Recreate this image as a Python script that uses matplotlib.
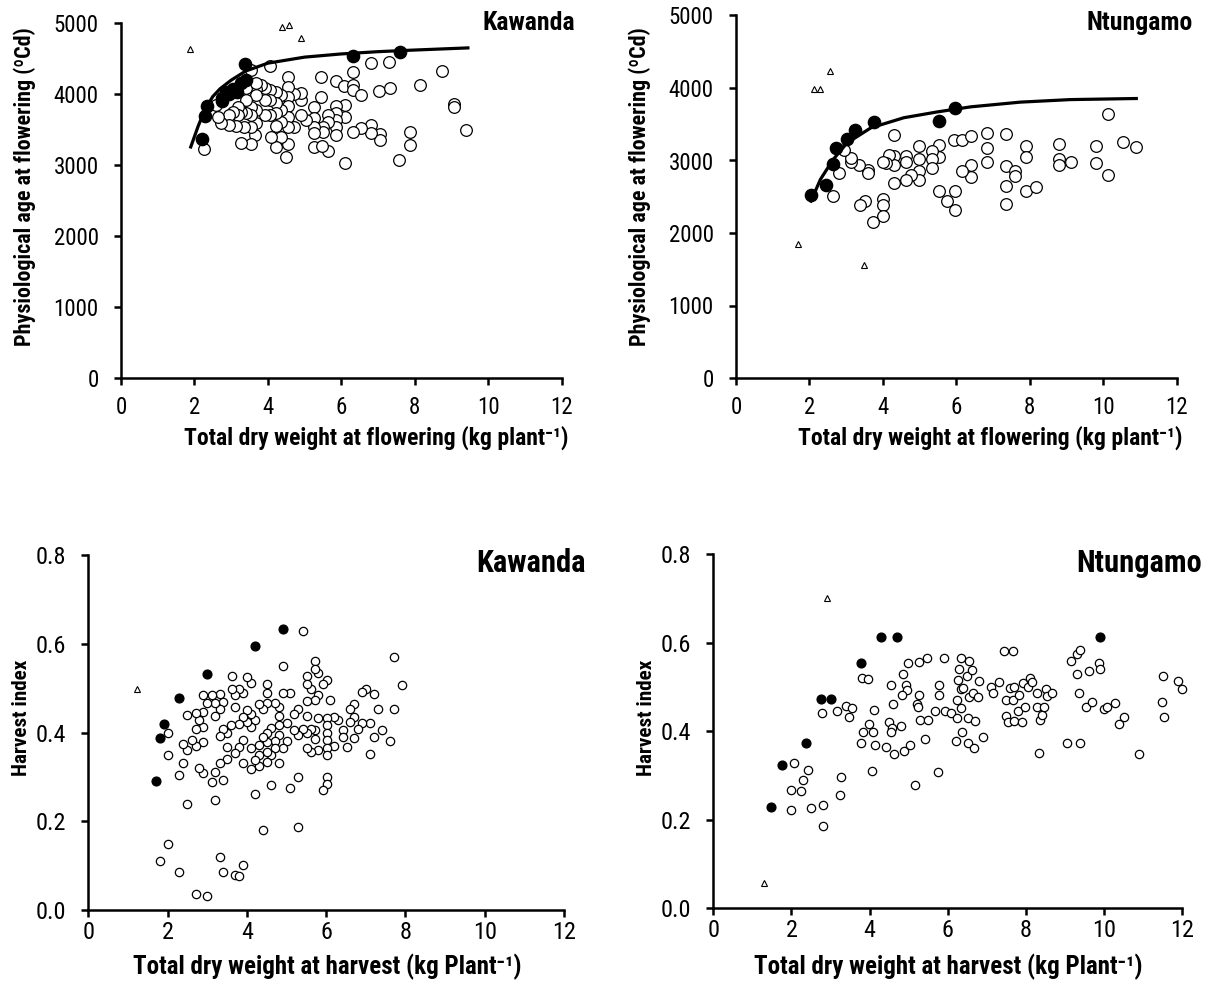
import matplotlib
matplotlib.use('Agg')
import matplotlib.pyplot as plt
from matplotlib import font_manager
from matplotlib.ticker import FormatStrFormatter

# look for a narrow / condensed sans face (the reference uses Arial Narrow)
FACE, STRETCH, k = 'Liberation Sans', 'normal', 0.84
cands = []
for f in font_manager.fontManager.ttflist:
    st = str(f.stretch)
    if 'Narrow' in f.name or 'Condensed' in f.name or st in ('condensed', 'semi-condensed', 'extra-condensed', '75', '87'):
        cands.append((f.name, st))
pref = ['Liberation Sans Narrow', 'Arial Narrow', 'Roboto Condensed', 'Open Sans Condensed',
        'Noto Sans', 'Roboto', 'Open Sans', 'DejaVu Sans']
for p in pref:
    hit = [c for c in cands if c[0] == p]
    if hit:
        FACE, STRETCH, k = hit[0][0], hit[0][1], 1.0
        break
plt.rcParams['font.family'] = [FACE, 'Liberation Sans', 'DejaVu Sans']
plt.rcParams['font.stretch'] = STRETCH

# ---- Kawanda, flowering ----
kf_open_x = [4.07, 4.56, 5.46, 6.32, 6.80, 7.30, 8.75, 8.14, 5.87, 6.07, 6.32, 6.32, 6.55, 7.03, 7.32,
             5.46, 9.07, 9.07, 9.41, 7.86, 7.86, 7.57, 6.09, 5.64, 5.25, 5.47, 7.05, 7.05, 6.80, 6.80,
             6.55, 6.32, 6.09, 6.09, 5.87, 5.87, 5.87, 5.87, 5.87, 5.64, 5.64, 5.50, 5.50, 5.25, 5.25,
             5.25, 5.25, 5.05, 4.89, 4.89, 4.89, 4.72, 4.72, 4.56, 4.56, 4.56, 4.56, 4.56, 4.56, 4.50,
             4.36, 4.36, 4.36, 4.36, 4.23, 4.23, 4.23, 4.23, 4.23, 4.09, 4.05, 4.05, 4.05, 3.91, 3.91,
             3.91, 3.82, 3.68, 3.68, 3.68, 3.68, 3.65, 3.55, 3.55, 3.55, 3.55, 3.41, 3.41, 3.41, 3.36,
             3.27, 3.27, 3.18, 3.18, 3.14, 3.05, 2.95, 2.95, 2.73, 2.64, 2.59, 2.27, 3.68, 3.55]
kf_open_y = [4395, 4240, 4240, 4300, 4427, 4441, 4315, 4118, 4179, 4113, 4122, 4052, 3981, 4042, 4085,
             3948, 3850, 3817, 3488, 3460, 3277, 3066, 3028, 3193, 3254, 3268, 3432, 3348, 3559, 3451,
             3521, 3465, 3676, 3840, 3826, 3723, 3629, 3535, 3418, 3700, 3606, 3535, 3465, 3817, 3653,
             3535, 3441, 3629, 3911, 4005, 3700, 3991, 3535, 4099, 3958, 3826, 3676, 3535, 3291, 3113,
             3981, 3770, 3606, 3395, 4028, 3864, 3723, 3545, 3254, 3395, 4052, 3911, 3700, 4075, 3911,
             3700, 4122, 4061, 3981, 3770, 3582, 3418, 3817, 3700, 3535, 3291, 4075, 3911, 3723, 3535,
             3300, 3746, 3817, 3700, 3545, 3746, 3700, 3559, 3582, 3676, 3840, 3221, 4155, 4333]
kf_fill_x = [2.20, 2.29, 2.35, 2.75, 2.75, 2.86, 2.95, 3.05, 3.15, 3.27, 3.41, 3.39, 6.33, 7.59]
kf_fill_y = [3366, 3690, 3826, 3902, 3934, 4028, 4000, 4061, 4030, 4146, 4193, 4418, 4535, 4592]
kf_tri_x = [1.89, 4.39, 4.57, 4.89]
kf_tri_y = [4630, 4935, 4965, 4790]
kf_fit_x = [1.9, 2.1, 2.3, 2.5, 2.7, 3.0, 3.4, 4.0, 5.0, 6.0, 7.0, 8.0, 9.45]
kf_fit_y = [3250, 3540, 3790, 3960, 4070, 4190, 4320, 4430, 4515, 4560, 4592, 4615, 4645]

# ---- Ntungamo, flowering ----
nf_open_x = [10.14, 4.30, 5.93, 6.16, 6.39, 6.84, 7.34, 6.84, 7.34, 7.36, 7.36, 7.61, 7.61, 7.91, 7.91,
             7.91, 8.18, 8.79, 8.79, 8.79, 9.12, 9.80, 9.80, 10.14, 10.53, 10.90, 6.84, 6.39, 6.39, 6.16,
             5.96, 5.96, 5.75, 5.54, 5.54, 5.54, 5.33, 5.33, 5.33, 4.97, 4.97, 4.97, 4.97, 4.77, 4.64,
             4.64, 4.64, 4.30, 4.30, 4.30, 4.17, 4.09, 3.99, 4.00, 4.00, 4.00, 3.74, 3.51, 3.38, 3.60,
             3.60, 3.35, 3.13, 3.13, 2.94, 2.81, 2.64]
nf_open_y = [3648, 3358, 3289, 3289, 3335, 3381, 3372, 3174, 2921, 2654, 2401, 2852, 2792, 3197, 3050,
             2585, 2636, 3234, 3022, 2944, 2976, 3197, 2967, 2806, 3252, 3188, 2976, 2944, 2769, 2861,
             2585, 2323, 2447, 2585, 3211, 3045, 3128, 3022, 2898, 3197, 3022, 2852, 2737, 2806, 3068,
             2976, 2737, 3059, 2944, 2691, 3073, 2967, 2976, 2475, 2392, 2231, 2153, 2438, 2392, 2875,
             2829, 2944, 2981, 3036, 3142, 2829, 2516]
nf_fill_x = [2.04, 2.45, 2.64, 2.73, 3.02, 3.24, 3.76, 5.53, 5.96]
nf_fill_y = [2530, 2660, 2955, 3175, 3290, 3415, 3535, 3540, 3725]
nf_tri_x = [1.68, 2.13, 2.29, 2.55, 3.49]
nf_tri_y = [1850, 3990, 3990, 4240, 1565]
nf_fit_x = [2.04, 2.3, 2.64, 3.02, 3.67, 4.57, 5.48, 6.39, 7.74, 9.1, 10.9]
nf_fit_y = [2440, 2740, 3010, 3240, 3450, 3590, 3670, 3740, 3805, 3840, 3855]

# ---- Kawanda, harvest ----
kh_open_x = [5.41, 4.90, 7.71, 7.91, 7.71, 7.61, 7.42, 7.21, 7.11, 7.32, 7.21, 7.01, 6.90, 7.11, 6.90,
             6.81, 6.70, 6.60, 6.70, 6.60, 6.70, 6.52, 6.42, 6.42, 6.31, 6.20, 6.20, 6.10, 6.02, 6.02,
             6.02, 6.02, 6.02, 6.02, 6.02, 6.02, 6.02, 5.91, 5.91, 5.80, 5.80, 5.80, 5.80, 5.72, 5.72,
             5.72, 5.72, 5.72, 5.61, 5.61, 5.61, 5.51, 5.51, 5.51, 5.51, 5.51, 5.51, 5.41, 5.30, 5.30,
             5.30, 5.30, 5.20, 5.20, 5.10, 5.10, 5.00, 5.00, 4.90, 4.90, 4.81, 4.81, 4.81, 4.81, 4.81,
             4.71, 4.71, 4.71, 4.60, 4.60, 4.60, 4.50, 4.50, 4.50, 4.50, 4.50, 4.50, 4.50, 4.40, 4.40,
             4.40, 4.31, 4.31, 4.31, 4.31, 4.21, 4.21, 4.21, 4.10, 4.10, 4.10, 4.10, 4.10, 4.00, 4.00,
             4.00, 3.91, 3.91, 3.91, 3.91, 3.81, 3.81, 3.81, 3.70, 3.70, 3.70, 3.62, 3.62, 3.59, 3.51,
             3.51, 3.51, 3.41, 3.41, 3.41, 3.31, 3.31, 3.31, 3.31, 3.20, 3.20, 3.20, 3.20, 3.11, 3.11,
             3.00, 2.90, 2.90, 2.90, 2.90, 2.90, 2.80, 2.80, 2.71, 2.71, 2.71, 2.61, 2.50, 2.50, 2.50,
             2.40, 2.40, 2.30, 2.01, 2.01, 2.00, 1.81, 2.30, 2.71, 3.00, 3.31, 3.41, 3.70, 3.81, 3.91]
kh_open_y = [0.629, 0.550, 0.571, 0.506, 0.453, 0.381, 0.405, 0.389, 0.351, 0.452, 0.486, 0.499, 0.492, 0.422, 0.422,
             0.409, 0.464, 0.452, 0.435, 0.424, 0.388, 0.368, 0.405, 0.390, 0.428, 0.435, 0.369, 0.474, 0.518, 0.432,
             0.417, 0.399, 0.383, 0.366, 0.349, 0.299, 0.284, 0.270, 0.509, 0.533, 0.484, 0.432, 0.360, 0.561, 0.544,
             0.473, 0.405, 0.386, 0.499, 0.409, 0.356, 0.528, 0.509, 0.471, 0.437, 0.399, 0.364, 0.407, 0.452, 0.394,
             0.300, 0.188, 0.441, 0.405, 0.489, 0.274, 0.422, 0.381, 0.489, 0.366, 0.458, 0.437, 0.417, 0.394, 0.332,
             0.467, 0.381, 0.364, 0.411, 0.349, 0.281, 0.510, 0.488, 0.467, 0.399, 0.379, 0.356, 0.334, 0.454, 0.389,
             0.180, 0.465, 0.371, 0.349, 0.324, 0.428, 0.338, 0.261, 0.441, 0.413, 0.364, 0.317, 0.512, 0.524, 0.450,
             0.424, 0.383, 0.332, 0.488, 0.435, 0.499, 0.420, 0.368, 0.484, 0.458, 0.353, 0.527, 0.499, 0.417, 0.368,
             0.398, 0.341, 0.469, 0.409, 0.294, 0.486, 0.452, 0.392, 0.332, 0.467, 0.437, 0.311, 0.249, 0.484, 0.289,
             0.467, 0.484, 0.447, 0.413, 0.379, 0.309, 0.428, 0.321, 0.443, 0.407, 0.369, 0.384, 0.439, 0.360, 0.239,
             0.374, 0.332, 0.304, 0.399, 0.349, 0.149, 0.110, 0.086, 0.035, 0.032, 0.120, 0.086, 0.079, 0.077, 0.101]
kh_fill_x = [1.71, 1.81, 1.91, 2.30, 3.00, 4.21, 4.90]
kh_fill_y = [0.291, 0.387, 0.420, 0.477, 0.532, 0.594, 0.633]
kh_tri_x = [1.22]
kh_tri_y = [0.498]

# ---- Ntungamo, harvest ----
nh_open_x = [2.06, 2.00, 2.00, 2.24, 2.30, 2.42, 2.50, 2.81, 2.81, 2.78, 3.16, 3.24, 3.26, 3.39, 3.54,
             3.48, 3.80, 3.97, 3.82, 3.77, 3.98, 4.08, 4.14, 4.11, 4.07, 4.43, 4.62, 4.89, 5.03, 4.54,
             4.59, 4.49, 4.56, 4.54, 4.80, 4.86, 4.93, 4.95, 4.82, 4.99, 5.26, 5.46, 5.27, 5.22, 5.25,
             5.29, 5.50, 5.16, 5.42, 5.76, 5.68, 5.77, 5.77, 5.91, 5.93, 6.09, 6.21, 6.24, 6.24, 6.27,
             6.29, 6.35, 6.35, 6.35, 6.37, 6.40, 6.48, 6.51, 6.52, 6.53, 6.55, 6.61, 6.64, 6.68, 6.70,
             6.76, 6.81, 6.91, 7.10, 7.16, 7.31, 7.45, 7.68, 7.49, 7.50, 7.55, 7.59, 7.68, 7.69, 7.70,
             7.79, 7.83, 7.91, 7.93, 7.97, 8.06, 8.10, 8.15, 8.27, 8.27, 8.34, 8.36, 8.40, 8.47, 8.51,
             8.55, 8.66, 9.04, 9.14, 9.30, 9.30, 9.38, 9.36, 9.38, 9.53, 9.62, 9.68, 9.88, 9.89, 10.00,
             10.08, 10.27, 10.39, 10.52, 10.88, 11.47, 11.51, 11.53, 11.88, 12.00]
nh_open_y = [0.328, 0.267, 0.222, 0.266, 0.290, 0.313, 0.226, 0.234, 0.186, 0.442, 0.446, 0.256, 0.296, 0.458, 0.453,
             0.432, 0.521, 0.518, 0.398, 0.373, 0.417, 0.398, 0.368, 0.448, 0.311, 0.364, 0.349, 0.356, 0.369, 0.505,
             0.462, 0.420, 0.408, 0.398, 0.411, 0.529, 0.505, 0.493, 0.481, 0.555, 0.556, 0.565, 0.481, 0.461, 0.454,
             0.426, 0.426, 0.279, 0.383, 0.309, 0.446, 0.505, 0.482, 0.565, 0.447, 0.441, 0.379, 0.429, 0.471, 0.516,
             0.541, 0.565, 0.453, 0.495, 0.399, 0.497, 0.525, 0.429, 0.373, 0.560, 0.478, 0.539, 0.487, 0.363, 0.424,
             0.477, 0.514, 0.388, 0.499, 0.487, 0.512, 0.582, 0.582, 0.471, 0.435, 0.422, 0.497, 0.471, 0.501, 0.424,
             0.447, 0.482, 0.420, 0.510, 0.456, 0.499, 0.521, 0.512, 0.486, 0.454, 0.352, 0.426, 0.437, 0.454, 0.496,
             0.480, 0.486, 0.373, 0.559, 0.574, 0.530, 0.584, 0.486, 0.374, 0.456, 0.537, 0.466, 0.555, 0.540, 0.450,
             0.454, 0.463, 0.417, 0.432, 0.348, 0.467, 0.526, 0.432, 0.514, 0.496]
nh_fill_x = [1.47, 1.77, 2.37, 2.75, 3.00, 3.77, 4.29, 4.71, 9.89]
nh_fill_y = [0.228, 0.324, 0.374, 0.472, 0.472, 0.554, 0.612, 0.612, 0.614]
nh_tri_x = [1.30, 2.92]
nh_tri_y = [0.058, 0.701]

W, H = 1210, 981
fig = plt.figure(figsize=(W / 100, H / 100), dpi=100)


def px_axes(l, t, r, b):
    return fig.add_axes([l / W, 1 - b / H, (r - l) / W, (b - t) / H])


def ptext(x, y, s, size, **kw):
    fig.text(x / W, 1 - y / H, s, fontsize=size * k, fontweight='bold', **kw)


def style(ax, ymax, yticks, tick_fs, xpad=8, fmt=None):
    ax.set_xlim(0, 12)
    ax.set_ylim(0, ymax)
    ax.set_xticks(range(0, 13, 2))
    ax.set_yticks(yticks)
    if fmt:
        ax.yaxis.set_major_formatter(FormatStrFormatter(fmt))
    for s in ['top', 'right']:
        ax.spines[s].set_visible(False)
    for s in ['left', 'bottom']:
        ax.spines[s].set_linewidth(1.8)
    ax.tick_params(direction='out', length=5, width=1.8, labelsize=tick_fs * k)
    ax.tick_params(axis='x', pad=xpad)
    ax.tick_params(axis='y', pad=11)
    ax.patch.set_alpha(0)


def draw(ax, ox, oy, fx_, fy_, tx, ty, ms, fit=None):
    ax.plot(ox, oy, 'o', ms=ms, mfc='white', mec='black', mew=0.9, clip_on=False)
    ax.plot(fx_, fy_, 'o', ms=ms * 1.05, mfc='black', mec='black', clip_on=False)
    if fit:
        ax.plot(fit[0], fit[1], '-', color='black', lw=2.3)
    ax.plot(tx, ty, '^', ms=5, mfc='white', mec='black', mew=0.8, clip_on=False)


ax1 = px_axes(121, 22.7, 561.5, 377.7)
draw(ax1, kf_open_x, kf_open_y, kf_fill_x, kf_fill_y, kf_tri_x, kf_tri_y, 8.4, (kf_fit_x, kf_fit_y))
style(ax1, 5000, range(0, 5001, 1000), 16.5)

ax2 = px_axes(736, 15.5, 1176.7, 378)
draw(ax2, nf_open_x, nf_open_y, nf_fill_x, nf_fill_y, nf_tri_x, nf_tri_y, 8.4, (nf_fit_x, nf_fit_y))
style(ax2, 5000, range(0, 5001, 1000), 16.5)

ax3 = px_axes(88.3, 555, 564, 910)
draw(ax3, kh_open_x, kh_open_y, kh_fill_x, kh_fill_y, kh_tri_x, kh_tri_y, 6.0)
style(ax3, 0.8, [0, 0.2, 0.4, 0.6, 0.8], 17.5, xpad=3, fmt='%.1f')

ax4 = px_axes(713.3, 554.3, 1182.3, 908.3)
draw(ax4, nh_open_x, nh_open_y, nh_fill_x, nh_fill_y, nh_tri_x, nh_tri_y, 6.0)
style(ax4, 0.8, [0, 0.2, 0.4, 0.6, 0.8], 17.5, xpad=3, fmt='%.1f')

# titles
ptext(575, 30, 'Kawanda', 18.5, ha='right', va='baseline')
ptext(1193, 30, 'Ntungamo', 18.5, ha='right', va='baseline')
ptext(586, 571.7, 'Kawanda', 22, ha='right', va='baseline')
ptext(1201.7, 571.7, 'Ntungamo', 22, ha='right', va='baseline')

# axis labels
ylab_top = 'Physiological age at flowering (ºCd)'
ptext(25, 187, ylab_top, 15.8, rotation=90, ha='center', va='center')
ptext(640, 187, ylab_top, 15.8, rotation=90, ha='center', va='center')
ptext(376, 445, 'Total dry weight at flowering (kg plant⁻¹)', 17, ha='center', va='baseline')
ptext(990, 445, 'Total dry weight at flowering (kg plant⁻¹)', 17, ha='center', va='baseline')
ptext(22, 718, 'Harvest index', 15.2, rotation=90, ha='center', va='center')
ptext(647, 718, 'Harvest index', 15.2, rotation=90, ha='center', va='center')
ptext(327, 974.5, 'Total dry weight at harvest (kg Plant⁻¹)', 18, ha='center', va='baseline')
ptext(948, 974.5, 'Total dry weight at harvest (kg Plant⁻¹)', 18, ha='center', va='baseline')

fig.savefig('out.png', dpi=100)
